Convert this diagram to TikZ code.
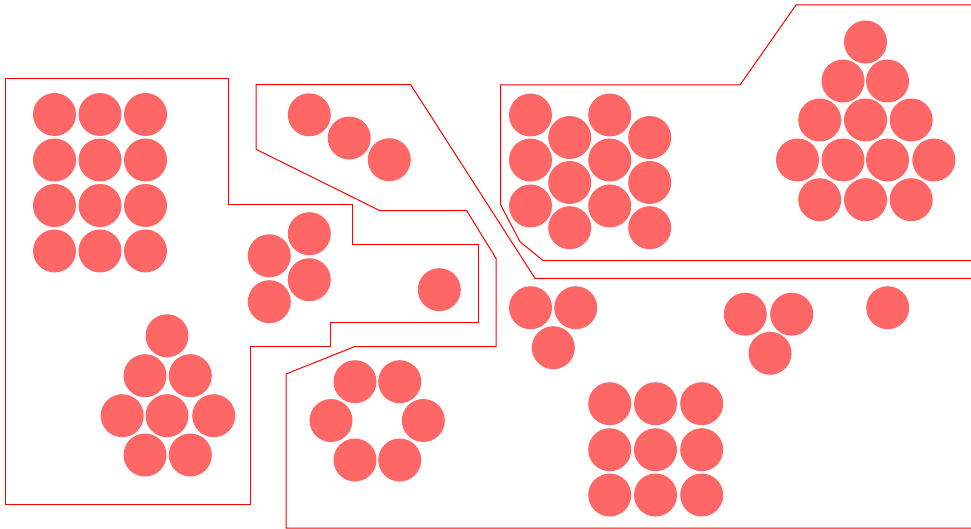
\documentclass[tikz,border=0pt]{standalone}
\definecolor{dotred}{RGB}{255,102,102}
\definecolor{linered}{RGB}{255,0,0}
\begin{document}
\begin{tikzpicture}[x=1pt,y=-1pt,
  dot/.style={fill=dotred},
  hull/.style={draw=linered,line width=1pt,line join=miter}]
\useasboundingbox (0,0) rectangle (971,529);
\clip (0,0) rectangle (971,529);
\def\r{21.5}
% hulls
\draw[hull] (5.7,79) -- (228.3,79) -- (228.3,205) -- (352.3,205) -- (352.3,244.3) -- (478.3,244.3) -- (478.3,322.7) -- (330,322.7) -- (330,346.7) -- (250,346.7) -- (250,504.3) -- (5.7,504.3) -- cycle;
\draw[hull] (256,84.7) -- (410.7,84.7) -- (535,278.3) -- (990,278.3) -- (990,528) -- (286,528) -- (286,374) -- (354.3,346.7) -- (496,346.7) -- (496,258.3) -- (466.7,210.7) -- (380,210.7) -- (256,149.3) -- cycle;
\draw[hull] (500.7,85) -- (740,85) -- (796,5) -- (990,5) -- (990,260.7) -- (543.3,260.7) -- (520,241.7) -- (500.7,205) -- cycle;
% left 4x3 grid
\foreach \x in {54.5,100,145.5}
  \foreach \y in {114.5,160,205.5,251}
    \fill[dot] (\x,\y) circle (\r);
% left-bottom triangle
\foreach \p in {(167,335.8),(145,375.7),(190.3,375.7),(122.2,415.7),(167,415.7),(213.7,415.7),(145,455),(190.3,455)}
  \fill[dot] \p circle (\r);
% three diagonal
\foreach \p in {(309.3,114.8),(349.2,138),(389.3,159.7)}
  \fill[dot] \p circle (\r);
% four group
\foreach \p in {(309.3,233.7),(269.3,255.8),(309.3,279.7),(269.3,301.7)}
  \fill[dot] \p circle (\r);
% single
\fill[dot] (439.3,289.7) circle (\r);
% ring of six
\foreach \p in {(355,381.7),(399.7,381.7),(331,420.5),(423.3,420.5),(355,460),(399.7,460)}
  \fill[dot] \p circle (\r);
% staggered group top right
\foreach \x in {530.5,609.7}
  \foreach \y in {115,160,206}
    \fill[dot] (\x,\y) circle (\r);
\foreach \x in {569.7,649.7}
  \foreach \y in {137.5,182.5,227.7}
    \fill[dot] (\x,\y) circle (\r);
% triangle of 13
\foreach \p in {(865.5,42),(843,81),(887.5,81),(819.7,120),(865.5,120),(911.2,120),(797.5,160),(843,160),(887.5,160),(933.8,160),(819.7,199.7),(865.5,199.7),(911.2,199.7)}
  \fill[dot] \p circle (\r);
% bottom right groups
\foreach \p in {(530.5,307.7),(575.7,307.7),(553.3,347.7)}
  \fill[dot] \p circle (\r);
\foreach \p in {(745.3,314.2),(791.7,314.2),(770,353.3)}
  \fill[dot] \p circle (\r);
\fill[dot] (887.7,307.7) circle (\r);
\foreach \x in {609.7,655.5,701.7}
  \foreach \y in {403.7,449.7,495}
    \fill[dot] (\x,\y) circle (\r);
\end{tikzpicture}
\end{document}
